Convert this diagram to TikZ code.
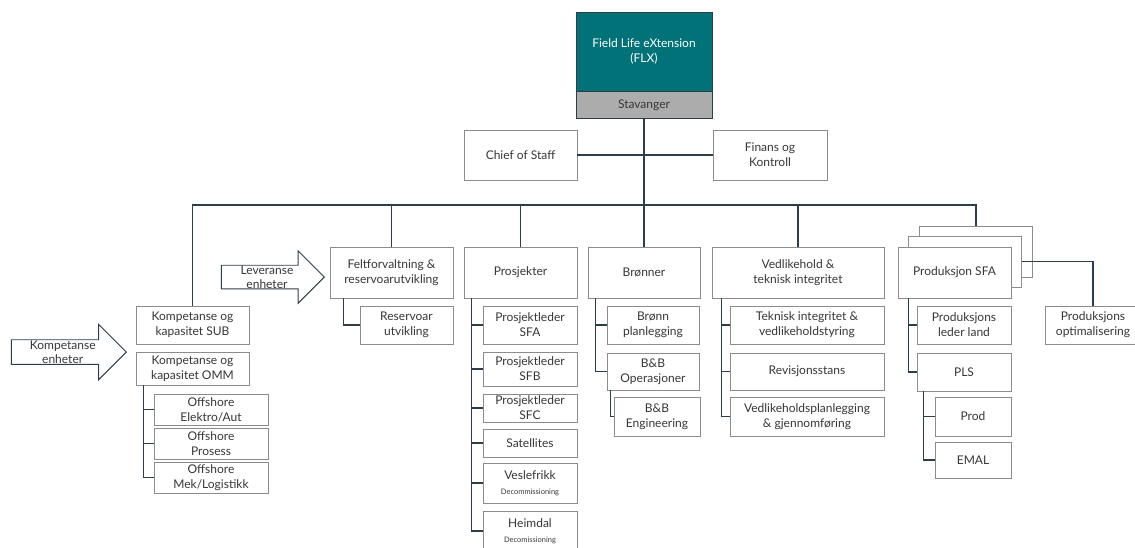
\documentclass[tikz,border=0pt]{standalone}
\usepackage{fontspec}
\setmainfont{Lato}
\usepackage{xcolor}
\usepackage{tikz}
\usetikzlibrary{positioning, shapes.arrows}

\definecolor{flxteal}{RGB}{0,114,120}
\definecolor{flxgray}{RGB}{172,172,172}
\definecolor{linjeblaa}{RGB}{45,62,74}
\definecolor{rammegraa}{RGB}{140,140,140}
\definecolor{tekstgraa}{RGB}{55,55,55}

\newcommand{\smalltxt}{\fontsize{7.5}{8.5}\selectfont}
\tikzset{sz/.style n args={2}{minimum width=#1, minimum height=#2}}

\begin{document}
\begin{tikzpicture}[
      x=1pt, y=-1pt,
      box_style/.style={draw=rammegraa, fill=white, align=center, inner sep=1pt,
        text=tekstgraa, font=\fontsize{12}{15}\selectfont},
      conn_style/.style={draw=linjeblaa, line width=1.1pt},
      arrow_style/.style={single arrow, draw=linjeblaa, fill=white, line width=0.9pt,
        align=center, text=tekstgraa, font=\fontsize{12}{14}\selectfont,
        single arrow head indent=0pt, anchor=tip}
  ]

  \useasboundingbox (0,0) rectangle (1135,547);

  % 1. Toppboks
  \node[box_style, sz={136}{79}, fill=flxteal, draw=linjeblaa, text=white] (flx) at (644,51.5)
    {Field Life eXtension\\(FLX)};
  \node[box_style, sz={136}{27}, fill=flxgray, draw=linjeblaa, below=0pt of flx] (stav) {Stavanger};

  % 2. Stab
  \node[box_style, sz={113}{50}] (cos) at (520.5,155) {Chief of Staff};
  \node[box_style, sz={114}{50}] (fin) at (770,155) {Finans og\\Kontroll};

  % 3. Enheter
  \node[box_style, sz={123}{51}] (felt) at (391.5,272.5) {Feltforvaltning \&\\reservoarutvikling};
  \node[box_style, sz={113}{51}] (prosj) at (520.5,272.5) {Prosjekter};
  \node[box_style, sz={112}{51}] (bronner) at (644,272.5) {Brønner};
  \node[box_style, sz={172}{51}] (vedl) at (798,272.5) {Vedlikehold \&\\teknisk integritet};
  \node[box_style, sz={113}{51}] (sfa3) at (976,251.5) {};
  \node[box_style, sz={113}{51}] (sfa2) at (965,261.5) {};
  \node[box_style, sz={113}{51}] (sfa) at (954.5,272.5) {Produksjon SFA};
  \node[box_style, sz={96}{38}] (optim) at (1093,325) {Produksjons\\optimalisering};

  % 4. Kompetanse
  \node[box_style, sz={113}{38}] (sub) at (192.5,325) {Kompetanse og\\kapasitet SUB};
  \node[box_style, sz={113}{33}] (omm) at (192.5,368.5) {Kompetanse og\\kapasitet OMM};
  \node[box_style, sz={114}{31}] (elektro) at (211,409.5) {Offshore\\Elektro/Aut};
  \node[box_style, sz={114}{31}] (prosess) at (211,443.5) {Offshore\\Prosess};
  \node[box_style, sz={114}{31}] (mek) at (211,477.5) {Offshore\\Mek/Logistikk};

  % 5. Underenheter
  \node[box_style, sz={93}{38}] (reserv) at (406.5,325) {Reservoar\\utvikling};

  \node[box_style, sz={94}{38}] (plsfa) at (530,325) {Prosjektleder\\SFA};
  \node[box_style, sz={94}{34}] (plsfb) at (530,369) {Prosjektleder\\SFB};
  \node[box_style, sz={94}{28}] (plsfc) at (530,408) {Prosjektleder\\SFC};
  \node[box_style, sz={94}{28}] (satell) at (530,443) {Satellites};
  \node[box_style, sz={94}{40}] (vesle) at (530,483) {Veslefrikk\\{\smalltxt Decommissioning}};
  \node[box_style, sz={94}{40}] (heimdal) at (530,531) {Heimdal\\{\smalltxt Decomissioning}};

  \node[box_style, sz={92}{38}] (bplan) at (653,325) {Brønn\\planlegging};
  \node[box_style, sz={92}{37}] (bbop) at (653,371.5) {B\&B\\Operasjoner};
  \node[box_style, sz={86}{39}] (bbeng) at (657,416.5) {B\&B\\Engineering};

  \node[box_style, sz={154}{38}] (tekint) at (807,325) {Teknisk integritet \&\\vedlikeholdstyring};
  \node[box_style, sz={154}{37}] (revis) at (807,371.5) {Revisjonsstans};
  \node[box_style, sz={154}{39}] (vplan) at (807,416.5) {Vedlikeholdsplanlegging\\\& gjennomføring};

  \node[box_style, sz={94}{38}] (pll) at (964,325) {Produksjons\\leder land};
  \node[box_style, sz={94}{38}] (pls) at (964,372) {PLS};
  \node[box_style, sz={76}{39}] (prod) at (973,416.5) {Prod};
  \node[box_style, sz={76}{36}] (emal) at (973,460) {EMAL};

  % 6. Piler
  \node[arrow_style, minimum height=115, single arrow head extend=15.5, inner ysep=0.5] (komp)
    at (127,352) {Kompetanse\\enheter};
  \node[arrow_style, minimum height=103, single arrow head extend=14.5, inner ysep=0] (lev)
    at (325,277) {Leveranse\\enheter};

  % 7. Linjer
  \coordinate (bus) at (644,205);
  \draw[conn_style] (stav.south) -- (bronner.north);
  \draw[conn_style] (cos.east) -- (fin.west);
  \draw[conn_style] (sub.north) -- (sub.north |- bus) -- (sfa3.north |- bus) -- (sfa3.north);
  \foreach \n in {felt, prosj, vedl}
    \draw[conn_style] (\n.north) -- (\n.north |- bus);
  \draw[conn_style] (sfa2.east) -| (optim.north);

  \foreach \n in {elektro, prosess, mek}
    \draw[conn_style] ([xshift=8]omm.south west) |- (\n.west);
  \draw[conn_style] ([xshift=14]felt.south west) |- (reserv.west);
  \foreach \n in {plsfa, plsfb, plsfc, satell, vesle, heimdal}
    \draw[conn_style] ([xshift=8]prosj.south west) |- (\n.west);
  \foreach \n in {bplan, bbop}
    \draw[conn_style] ([xshift=8]bronner.south west) |- (\n.west);
  \draw[conn_style] ([xshift=4]bbop.south west) |- (bbeng.west);
  \foreach \n in {tekint, revis, vplan}
    \draw[conn_style] ([xshift=10]vedl.south west) |- (\n.west);
  \foreach \n in {pll, pls}
    \draw[conn_style] ([xshift=11]sfa.south west) |- (\n.west);
  \foreach \n in {prod, emal}
    \draw[conn_style] ([xshift=7]pls.south west) |- (\n.west);

\end{tikzpicture}
\end{document}
